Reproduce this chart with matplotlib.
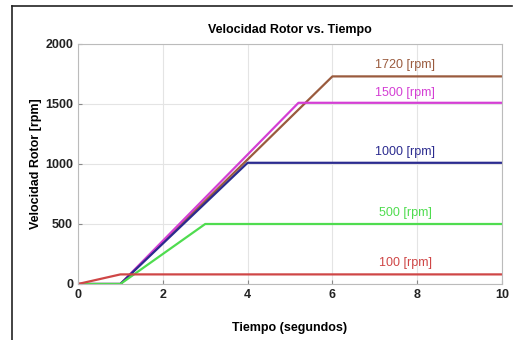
import matplotlib.pyplot as plt
from matplotlib.lines import Line2D

# speed profiles (time in s, speed in rpm)
t_100 = [0, 1, 10]
w_100 = [0, 80, 80]
t_500 = [0, 1, 3, 10]
w_500 = [0, 0, 500, 500]
t_1000 = [0, 1, 4, 10]
w_1000 = [0, 0, 1010, 1010]
t_1500 = [0, 1, 5.2, 10]
w_1500 = [0, 0, 1510, 1510]
t_1720 = [0, 1, 6, 10]
w_1720 = [0, 0, 1730, 1730]

labels = ['1720 [rpm]', '1500 [rpm]', '1000 [rpm]', '500 [rpm]', '100 [rpm]']
label_y = [1825, 1590, 1100, 590, 175]
colors = ['#9a5b3e', '#d43fd4', '#2b2b8f', '#4fdc4f', '#cf4646']

fig = plt.figure(figsize=(5.22, 3.40), dpi=100)
# page frame: left and top edges
fx, fy = 12 / 522, 1 - 6 / 340
fig.add_artist(Line2D([fx, fx], [0, fy], transform=fig.transFigure,
                      color='#222222', lw=1.2))
fig.add_artist(Line2D([fx, 0.98], [fy, fy], transform=fig.transFigure,
                      color='#222222', lw=1.2))
ax = fig.add_axes([78 / 522, 1 - 284 / 340, (502 - 78) / 522, (284 - 44) / 340])

series = [(t_1720, w_1720), (t_1500, w_1500), (t_1000, w_1000),
          (t_500, w_500), (t_100, w_100)]
for (t, w), c in zip(series, colors):
    ax.plot(t, w, color=c, lw=1.6)

for lab, y, c in zip(labels, label_y, colors):
    ax.text(7.72, y, lab, color=c, ha='center', va='center', fontsize=9,
            family=['Liberation Sans Narrow', 'Liberation Sans'])

ax.set_xlim(0, 10)
ax.set_ylim(0, 2000)
ax.set_xticks([0, 2, 4, 6, 8, 10])
ax.set_yticks([0, 500, 1000, 1500, 2000])
ax.grid(True, color='#e4e4e4', lw=0.8)
for s in ax.spines.values():
    s.set_color('#bbbbbb')
ax.tick_params(colors='#888888', labelcolor='#222222', length=3, direction='in')
for lab in ax.get_xticklabels() + ax.get_yticklabels():
    lab.set_fontweight('bold')
    lab.set_fontsize(9)
    lab.set_family('Liberation Sans')

ax.set_title('Velocidad Rotor vs. Tiempo', fontsize=9, fontweight='bold',
             family='Liberation Sans', pad=8)
ax.set_xlabel('Tiempo (segundos)', fontsize=9, fontweight='bold',
              family='Liberation Sans', labelpad=15)
ax.set_ylabel('Velocidad Rotor [rpm]', fontsize=9, fontweight='bold',
              family='Liberation Sans', labelpad=2)

fig.savefig('out.png', dpi=100)
